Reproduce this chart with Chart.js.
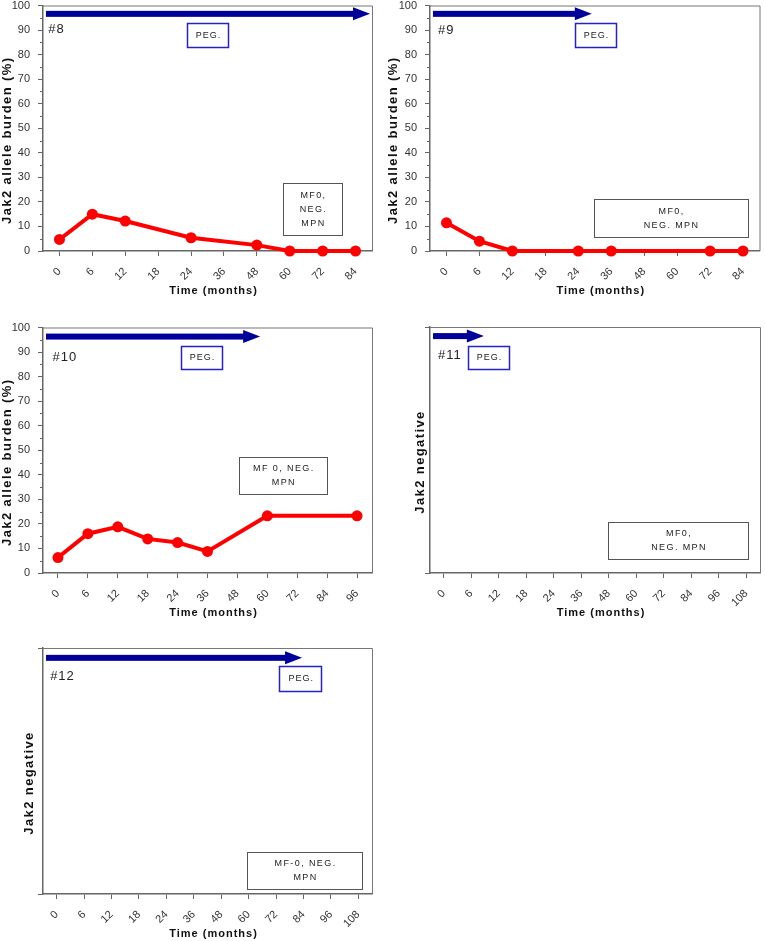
<!DOCTYPE html>
<html>
<head>
<meta charset="utf-8">
<script src="https://cdn.jsdelivr.net/npm/chart.js@4.4.0/dist/chart.umd.min.js"></script>
<style>
  html, body { margin: 0; padding: 0; background: #fff; overflow: hidden; }
  #wrap { position: relative; width: 765px; height: 941px; overflow: hidden; }
  canvas { position: absolute; }
</style>
</head>
<body>
<div id="wrap">
  <canvas id="c8" width="382" height="315" style="left:0;top:0"></canvas>
  <canvas id="c9" width="378" height="315" style="left:387px;top:0"></canvas>
  <canvas id="c10" width="382" height="315" style="left:0;top:322px"></canvas>
  <canvas id="c11" width="378" height="315" style="left:387px;top:322px"></canvas>
  <canvas id="c12" width="382" height="315" style="left:0;top:643px"></canvas>
</div>
<script>
// months on the x axis
const months84 = ["0", "6", "12", "18", "24", "36", "48", "60", "72", "84"];
const months96 = ["0", "6", "12", "18", "24", "36", "48", "60", "72", "84", "96"];
const months108 = ["0", "6", "12", "18", "24", "36", "48", "60", "72", "84", "96", "108"];

// Jak2 allele burden (%), null = no sample
const jak8 = [4.7, 15, 12.2, null, 5.4, null, 2.4, 0, 0, 0];
const jak9 = [11.5, 4, 0, null, 0, 0, null, null, 0, 0];
const jak10 = [6.3, 16, 18.8, 13.9, 12.4, 8.8, null, 23.3, null, null, 23.3];
const jak11 = [];
const jak12 = [];

Chart.defaults.font.family = "'Liberation Sans', Arial, sans-serif";
Chart.defaults.color = "#333";

// top / right frame, minor ticks and axis titles
const framePlugin = {
  id: "frame",
  afterDraw(chart, args, opts) {
    const { ctx, chartArea: a, scales } = chart;
    ctx.save();
    ctx.strokeStyle = "#777";
    ctx.lineWidth = 1;
    ctx.beginPath();
    ctx.moveTo(a.left, a.top + 0.5);
    ctx.lineTo(a.right + 0.5, a.top + 0.5);
    ctx.lineTo(a.right + 0.5, a.bottom);
    ctx.stroke();

    if (opts.minor) {
      ctx.strokeStyle = "#666";
      ctx.beginPath();
      for (let v = scales.y.min + 5; v < scales.y.max; v += 10) {
        const py = Math.round(scales.y.getPixelForValue(v)) + 0.5;
        ctx.moveTo(a.left - 3, py);
        ctx.lineTo(a.left, py);
      }
      ctx.stroke();
    }

    ctx.fillStyle = "#111";
    ctx.textAlign = "center";
    ctx.textBaseline = "middle";
    ctx.font = "bold 13px 'Liberation Sans', Arial, sans-serif";
    ctx.letterSpacing = "1.4px";
    ctx.save();
    ctx.translate(a.left - opts.yTitleGap, (a.top + a.bottom) / 2 + 12);
    ctx.rotate(-Math.PI / 2);
    ctx.fillText(opts.yTitle, 0, 0);
    ctx.restore();

    ctx.font = "bold 11px 'Liberation Sans', Arial, sans-serif";
    ctx.letterSpacing = "1px";
    ctx.fillText("Time (months)", (a.left + a.right) / 2 + 6, 291);
    ctx.restore();
  },
};

// PEG arrow, patient tag and the two text boxes
const notesPlugin = {
  id: "notes",
  afterDatasetsDraw(chart, args, n) {
    const { ctx, scales: { x, y } } = chart;
    ctx.save();

    const ay = y.getPixelForValue(n.arrow[2]);
    const x0 = x.getPixelForValue(n.arrow[0]);
    const x1 = x.getPixelForValue(n.arrow[1]);
    ctx.fillStyle = "#00009a";
    ctx.fillRect(x0, ay - 3, x1 - 16 - x0, 6);
    ctx.beginPath();
    ctx.moveTo(x1 - 17, ay - 6.5);
    ctx.lineTo(x1, ay);
    ctx.lineTo(x1 - 17, ay + 6.5);
    ctx.closePath();
    ctx.fill();

    ctx.fillStyle = "#222";
    ctx.textBaseline = "middle";
    ctx.textAlign = "left";
    ctx.font = "13px 'Liberation Sans', Arial, sans-serif";
    ctx.letterSpacing = "1px";
    ctx.fillText(n.tag[0], x.getPixelForValue(n.tag[1]), y.getPixelForValue(n.tag[2]));

    drawBox(ctx, x.getPixelForValue(n.peg[0]), y.getPixelForValue(n.peg[1]),
      n.peg[2], n.peg[3], ["PEG."], "#2323c8", 1.5, "1px");
    drawBox(ctx, x.getPixelForValue(n.mf[0]), y.getPixelForValue(n.mf[1]),
      n.mf[2], n.mf[3], n.mf[4], "#555", 1, "1.4px");
    ctx.restore();
  },
};

function drawBox(ctx, cx, cy, w, h, lines, stroke, lw, spacing) {
  ctx.save();
  ctx.fillStyle = "#fff";
  ctx.fillRect(cx - w / 2, cy - h / 2, w, h);
  ctx.strokeStyle = stroke;
  ctx.lineWidth = lw;
  ctx.strokeRect(Math.round(cx - w / 2) + 0.5, Math.round(cy - h / 2) + 0.5, w, h);
  ctx.fillStyle = "#222";
  ctx.textAlign = "center";
  ctx.textBaseline = "middle";
  ctx.font = "9px 'Liberation Sans', Arial, sans-serif";
  ctx.letterSpacing = spacing;
  for (let i = 0; i < lines.length; i++) {
    const ly = cy + (i - (lines.length - 1) / 2) * 14;
    ctx.fillText(lines[i], cx + 1, ly);
  }
  ctx.restore();
}

function makePanel(id, labels, values, percent, padRight, yTitleGap, notes) {
  const config = {
    type: "line",
    data: {
      labels,
      datasets: [
        {
          data: values,
          borderColor: "#ff0000",
          backgroundColor: "#ff0000",
          borderWidth: 4,
          pointRadius: 5.5,
          pointBorderWidth: 0,
          spanGaps: true,
          clip: false,
          tension: 0,
        },
      ],
    },
    options: {
      responsive: false,
      animation: false,
      layout: { padding: { top: 5, right: padRight, left: 0, bottom: 0 } },
      plugins: {
        legend: { display: false },
        tooltip: { enabled: false },
        frame: {
          minor: percent,
          yTitle: percent ? "Jak2 allele burden (%)" : "Jak2 negative",
          yTitleGap,
        },
        notes,
      },
      scales: {
        x: {
          type: "category",
          offset: true,
          ticks: { autoSkip: false, minRotation: 45, maxRotation: 45, padding: 9, font: { size: 11 } },
          grid: { drawOnChartArea: false, tickLength: 5, color: "#666", offset: false },
          border: { color: "#666", width: 1.5 },
          afterFit(s) {
            s.height = 64;
            s.paddingLeft = 0;
            s.paddingRight = 0;
          },
        },
        y: {
          min: 0,
          max: percent ? 100 : 1,
          ticks: {
            stepSize: percent ? 10 : 1,
            padding: 8,
            font: { size: 11 },
            callback: (v) => (percent ? v : ""),
          },
          grid: { drawOnChartArea: false, tickLength: 5, color: "#666" },
          border: { color: "#666", width: 1.5 },
          afterFit(s) {
            s.width = 43;
            s.paddingTop = 0;
            s.paddingBottom = 0;
          },
        },
      },
    },
    plugins: [notesPlugin, framePlugin],
  };
  return new Chart(document.getElementById(id), config);
}

makePanel("c8", months84, jak8, true, 10, 36, {
  arrow: [-0.41, 9.44, 96.6],
  tag: ["#8", -0.34, 90.2],
  peg: [4.5, 87.8, 41, 24],
  mf: [7.69, 17.1, 59, 52, ["MF0,", "NEG.", "MPN"]],
});
makePanel("c9", months84, jak9, true, 5, 37, {
  arrow: [-0.41, 4.41, 96.6],
  tag: ["#9", -0.26, 90],
  peg: [4.52, 87.8, 41, 24],
  mf: [6.8, 13.4, 154, 38, ["MF0,", "NEG. MPN"]],
});
makePanel("c10", months96, jak10, true, 10, 36, {
  arrow: [-0.4, 6.76, 96.3],
  tag: ["#10", -0.18, 87.8],
  peg: [4.8, 87.6, 41, 23],
  mf: [7.52, 39.6, 88, 37, ["MF 0, NEG.", "MPN"]],
});
makePanel("c11", months108, jak11, false, 5, 10, {
  arrow: [-0.39, 1.46, 0.963],
  tag: ["#11", -0.21, 0.886],
  peg: [1.63, 0.876, 41, 23],
  mf: [8.52, 0.132, 140, 37, ["MF0,", "NEG. MPN"]],
});
makePanel("c12", months108, jak12, false, 10, 14, {
  arrow: [-0.39, 8.95, 0.96],
  tag: ["#12", -0.24, 0.883],
  peg: [8.88, 0.877, 42, 25],
  mf: [9.04, 0.095, 115, 37, ["MF-0, NEG.", "MPN"]],
});
</script>
</body>
</html>
